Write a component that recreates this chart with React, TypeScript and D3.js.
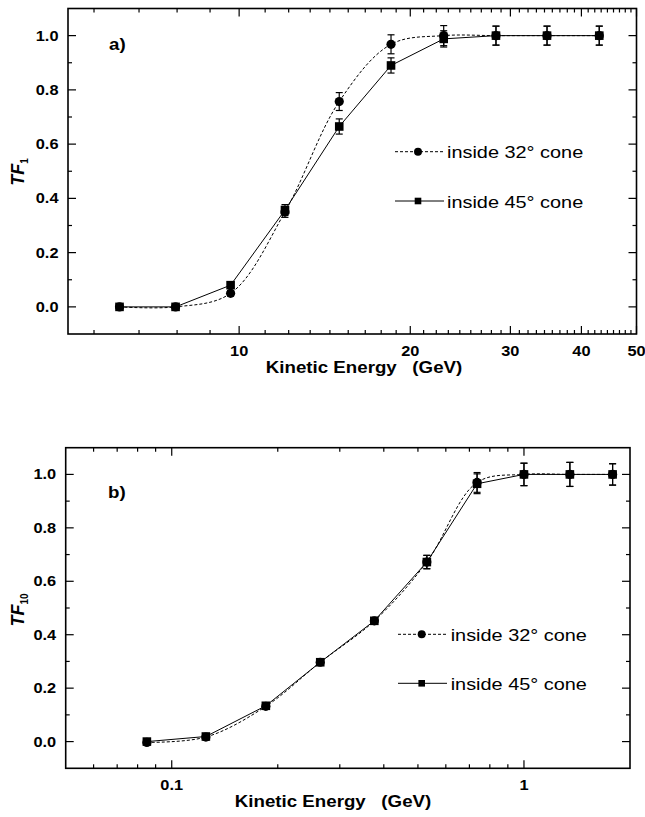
import React from 'react';
import * as d3 from 'd3';

const FONT = '"Liberation Sans", Arial, Helvetica, sans-serif';
const SX = 1.17;

// ---------- Panel a) ----------
const energyA = [6.16, 7.73, 9.66, 12.04, 15.0, 18.5, 22.9, 28.3, 34.8, 43.0];
const tf1Cone32 = [0, 0, 0.05, 0.35, 0.757, 0.968, 1.0, 1.0, 1.0, 1.0];
const tf1Cone32Err = [0.005, 0.005, 0.01, 0.02, 0.033, 0.035, 0.037, 0.035, 0.035, 0.035];
const tf1Cone45 = [0, 0, 0.08, 0.357, 0.665, 0.89, 0.988, 1.0, 1.0, 1.0];
const tf1Cone45Err = [0.005, 0.005, 0.01, 0.02, 0.028, 0.028, 0.03, 0.035, 0.035, 0.035];
const xMajorA = [10, 20, 30, 40, 50];
const xMajorLabelsA = ['10', '20', '30', '40', '50'];

// ---------- Panel b) ----------
const energyB = [0.085, 0.125, 0.185, 0.264, 0.376, 0.53, 0.736, 1.0, 1.35, 1.785];
const tf10Cone32 = [-0.003, 0.017, 0.132, 0.297, 0.452, 0.672, 0.97, 1.0, 1.0, 1.0];
const tf10Cone32Err = [0.005, 0.005, 0.01, 0.01, 0.012, 0.025, 0.037, 0.042, 0.045, 0.04];
const tf10Cone45 = [0, 0.019, 0.134, 0.297, 0.452, 0.672, 0.965, 1.0, 1.0, 1.0];
const tf10Cone45Err = [0.005, 0.005, 0.01, 0.01, 0.012, 0.025, 0.037, 0.042, 0.045, 0.04];
const xMajorB = [0.1, 1];
const xMajorLabelsB = ['0.1', '1'];
const xMinorB = [0.06, 0.07, 0.08, 0.09, 0.2, 0.3, 0.4, 0.5, 0.6, 0.7, 0.8, 0.9];

// ---------- shared ----------
const yMajor = [0, 0.2, 0.4, 0.6, 0.8, 1.0];
const yMajorLabels = ['0.0', '0.2', '0.4', '0.6', '0.8', '1.0'];
const yMinor = [0.1, 0.3, 0.5, 0.7, 0.9];
const legendLabels = ['inside 32\u00b0 cone', 'inside 45\u00b0 cone'];

// minor ticks of panel a: 8 evenly spaced ticks between successive majors (step 10)
const xMinorA: number[] = [];
for (let k = 0; k < 5; k++) {
  for (let j = 1; j <= 8; j++) {
    const v = 10 * k + (j * 10) / 9;
    if (v > 5 && v < 50) xMinorA.push(v);
  }
}

function T(props: any) {
  const { x, y, size, weight, anchor, children, italic } = props;
  return (
    <text
      transform={`translate(${x},${y}) scale(${SX},1)`}
      fontSize={size}
      fontWeight={weight || 'normal'}
      fontStyle={italic ? 'italic' : 'normal'}
      textAnchor={anchor || 'start'}
      fontFamily={FONT}
      fill="#000"
      style={{ whiteSpace: 'pre' }}
    >
      {children}
    </text>
  );
}

function Panel(p: any) {
  const { left, right, top, bottom, xDomain, energy, s32, e32, s45, e45, xMajor, xMajorLabels, xMinor,
    tag, tagX, tagY, sub, ylabY, xlabX, legX0, legX1, legMark, legText, legY, xlabelBaseline } = p;
  const x = d3.scaleLog().domain(xDomain).range([left, right]);
  const y = d3.scaleLinear().domain([-0.1, 1.1]).range([bottom, top]);
  const solid = d3.line<number>().x((_, i) => x(energy[i])).y((d) => y(d));
  const dashed = d3.line<number>().x((_, i) => x(energy[i])).y((d) => y(d)).curve(d3.curveCatmullRom.alpha(0.5));
  const MAJ = 8, MIN = 4;
  const capW = 3.5;

  const errBars = (vals: number[], errs: number[], key: string) =>
    vals.map((v, i) => {
      const cx = x(energy[i]);
      const y1 = y(v - errs[i]);
      const y2 = y(v + errs[i]);
      return (
        <g key={key + i} stroke="#000" strokeWidth={1.2}>
          <line x1={cx} x2={cx} y1={y1} y2={y2} />
          <line x1={cx - capW} x2={cx + capW} y1={y1} y2={y1} />
          <line x1={cx - capW} x2={cx + capW} y1={y2} y2={y2} />
        </g>
      );
    });

  return (
    <g>
      {/* data lines */}
      <path d={solid(s45) || ''} fill="none" stroke="#000" strokeWidth={1} />
      <path d={dashed(s32) || ''} fill="none" stroke="#000" strokeWidth={1} strokeDasharray="3,2" />
      {errBars(s32, e32, 'e32')}
      {errBars(s45, e45, 'e45')}
      {s32.map((v: number, i: number) => (
        <circle key={'c' + i} cx={x(energy[i])} cy={y(v)} r={4.6} fill="#000" />
      ))}
      {s45.map((v: number, i: number) => (
        <rect key={'s' + i} x={x(energy[i]) - 4.3} y={y(v) - 4.3} width={8.6} height={8.6} fill="#000" />
      ))}

      {/* frame */}
      <rect x={left} y={top} width={right - left} height={bottom - top} fill="none" stroke="#000" strokeWidth={1.6} />

      {/* x ticks */}
      {xMajor.map((v: number, i: number) => (
        <g key={'xm' + i} stroke="#000" strokeWidth={1.2}>
          <line x1={x(v)} x2={x(v)} y1={bottom} y2={bottom - MAJ} />
          <line x1={x(v)} x2={x(v)} y1={top} y2={top + MAJ} />
        </g>
      ))}
      {xMinor.map((v: number, i: number) => (
        <g key={'xn' + i} stroke="#000" strokeWidth={1.2}>
          <line x1={x(v)} x2={x(v)} y1={bottom} y2={bottom - MIN} />
          <line x1={x(v)} x2={x(v)} y1={top} y2={top + MIN} />
        </g>
      ))}
      {/* y ticks */}
      {yMajor.map((v, i) => (
        <g key={'ym' + i} stroke="#000" strokeWidth={1.2}>
          <line x1={left} x2={left + MAJ} y1={y(v)} y2={y(v)} />
          <line x1={right} x2={right - MAJ} y1={y(v)} y2={y(v)} />
        </g>
      ))}
      {yMinor.map((v, i) => (
        <g key={'yn' + i} stroke="#000" strokeWidth={1.2}>
          <line x1={left} x2={left + MIN} y1={y(v)} y2={y(v)} />
          <line x1={right} x2={right - MIN} y1={y(v)} y2={y(v)} />
        </g>
      ))}

      {/* tick labels */}
      {xMajor.map((v: number, i: number) => (
        <T key={'xl' + i} x={x(v)} y={bottom + 22} size={14} weight="bold" anchor="middle">{xMajorLabels[i]}</T>
      ))}
      {yMajor.map((v, i) => (
        <T key={'yl' + i} x={left - 9.5} y={y(v) + 5} size={14} weight="bold" anchor="end">{yMajorLabels[i]}</T>
      ))}

      {/* axis titles */}
      <T x={xlabX} y={xlabelBaseline} size={16} weight="bold" anchor="middle">{'Kinetic Energy   (GeV)'}</T>
      <text transform={`translate(24,${ylabY}) rotate(-90)`} textAnchor="middle" fontFamily={FONT} fontWeight="bold" fontSize={18} fill="#000">
        <tspan fontStyle="italic">TF</tspan>
        <tspan fontSize={10} dy={4}>{sub}</tspan>
      </text>

      {/* panel tag */}
      <T x={tagX} y={tagY} size={16} weight="bold">{tag}</T>

      {/* legend */}
      <line x1={legX0} x2={legX1} y1={legY[0]} y2={legY[0]} stroke="#000" strokeWidth={1} strokeDasharray="3,2" />
      <circle cx={legMark} cy={legY[0]} r={4} fill="#000" />
      <T x={legText} y={legY[0] + 6.5} size={17}>{legendLabels[0]}</T>
      <line x1={legX0} x2={legX1} y1={legY[1]} y2={legY[1]} stroke="#000" strokeWidth={1} />
      <rect x={legMark - 3.3} y={legY[1] - 3.3} width={6.6} height={6.6} fill="#000" />
      <T x={legText} y={legY[1] + 6.5} size={17}>{legendLabels[1]}</T>
    </g>
  );
}

export default function App() {
  return (
    <svg width={645} height={817} style={{ position: 'absolute', left: 0, top: 0, background: '#fff' }}>
      <rect x={0} y={0} width={645} height={817} fill="#fff" />
      <Panel
        left={68} right={636.5} top={8.5} bottom={334}
        xDomain={[5, 50]} energy={energyA}
        s32={tf1Cone32} e32={tf1Cone32Err} s45={tf1Cone45} e45={tf1Cone45Err}
        xMajor={xMajorA} xMajorLabels={xMajorLabelsA} xMinor={xMinorA}
        tag="a)" tagX={109} tagY={50} sub="1" ylabY={172}
        xlabX={364} xlabelBaseline={373}
        legX0={395} legX1={444} legMark={418} legText={447} legY={[151.7, 201]}
      />
      <Panel
        left={65.7} right={630} top={447.7} bottom={768.3}
        xDomain={[0.05, 2]} energy={energyB}
        s32={tf10Cone32} e32={tf10Cone32Err} s45={tf10Cone45} e45={tf10Cone45Err}
        xMajor={xMajorB} xMajorLabels={xMajorLabelsB} xMinor={xMinorB}
        tag="b)" tagX={108} tagY={498} sub="10" ylabY={610}
        xlabX={333} xlabelBaseline={807}
        legX0={398} legX1={447} legMark={421.7} legText={450.7} legY={[634.3, 683.3]}
      />
    </svg>
  );
}
